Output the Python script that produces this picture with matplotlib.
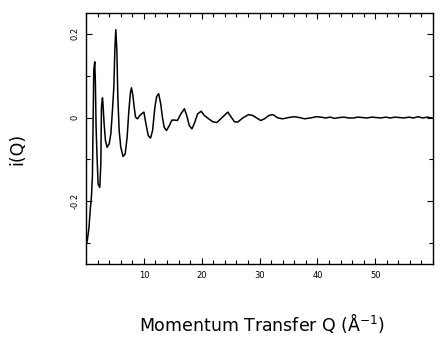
import matplotlib.pyplot as plt
from matplotlib.ticker import MultipleLocator, FixedLocator

# values
q = [0.0, 0.2, 0.5, 0.75, 0.92, 1.1, 1.21, 1.33, 1.5, 1.6, 1.73, 1.9, 2.08, 2.37,
     2.55, 2.66, 2.83, 2.9, 3.12, 3.35, 3.64, 3.99, 4.28, 4.56, 4.8, 4.97, 5.14,
     5.32, 5.49, 5.72, 6.0, 6.4, 6.76, 7.1, 7.4, 7.68, 7.85, 8.09, 8.32, 8.55,
     8.9, 9.3, 9.7, 10.0, 10.35, 10.75, 11.15, 11.5, 11.9, 12.2, 12.55, 12.9,
     13.2, 13.5, 13.9, 14.4, 14.85, 15.25, 15.8, 16.4, 17.0, 17.4, 17.85, 18.3,
     18.7, 19.3, 19.9, 20.45, 21.2, 21.9, 22.6, 23.6, 24.5, 25.1, 25.65, 26.2,
     27.1, 28.1, 28.8, 29.5, 30.2, 30.85, 31.6, 32.3, 33.2, 34.0, 35.0, 36.0,
     36.9, 37.8, 38.8, 39.8, 40.6, 41.4, 42.2, 43.0, 43.8, 44.6, 45.4, 46.2,
     47.0, 47.8, 48.6, 49.4, 50.2, 51.0, 51.8, 52.6, 53.4, 54.2, 55.0, 55.8,
     56.6, 57.4, 58.2, 59.0, 59.8]
iq = [-0.303, -0.295, -0.263, -0.215, -0.19, -0.139, -0.015, 0.113, 0.133, 0.089,
      -0.023, -0.095, -0.159, -0.167, -0.111, 0.025, 0.047, 0.037, -0.015, -0.055,
      -0.071, -0.063, -0.039, 0.017, 0.073, 0.161, 0.21, 0.161, 0.049, -0.031,
      -0.071, -0.093, -0.087, -0.047, 0.017, 0.061, 0.071, 0.053, 0.025, 0.001,
      -0.003, 0.005, 0.010, 0.013, -0.015, -0.043, -0.049, -0.031, 0.025, 0.050,
      0.057, 0.033, 0.001, -0.023, -0.031, -0.019, -0.006, -0.006, -0.007, 0.009,
      0.021, 0.005, -0.019, -0.027, -0.015, 0.009, 0.015, 0.005, -0.003, -0.010,
      -0.012, 0.001, 0.013, 0.001, -0.010, -0.011, -0.001, 0.007, 0.005, -0.001,
      -0.007, -0.003, 0.005, 0.007, -0.001, -0.003, 0.000, 0.002, 0.000, -0.003,
      -0.001, 0.002, 0.001, -0.001, 0.001, -0.002, 0.000, 0.001, -0.001, -0.001,
      0.001, 0.000, -0.001, 0.001, 0.000, -0.001, 0.001, -0.001, 0.001, 0.000,
      -0.001, 0.001, -0.001, 0.002, -0.001, 0.001, -0.001]

fig = plt.figure(figsize=(4.46, 3.39), dpi=100)
ax = fig.add_axes([0.193, 0.221, 0.778, 0.741])

ax.plot(q, iq, color="black", linewidth=1.1)

ax.set_xlim(0, 60)
ax.set_ylim(-0.35, 0.25)
ax.xaxis.set_major_locator(FixedLocator([10, 20, 30, 40, 50]))
ax.xaxis.set_minor_locator(MultipleLocator(2))
ax.yaxis.set_major_locator(FixedLocator([-0.2, 0, 0.2]))
ax.yaxis.set_minor_locator(MultipleLocator(0.1))
ax.set_yticklabels(["-0.2", "0", "0.2"], rotation=90, va="center")
ax.tick_params(which="both", direction="in", top=True, right=True, labelsize=6, width=0.8)
ax.tick_params(which="major", length=4, pad=5)
ax.tick_params(which="minor", length=3)
for s in ax.spines.values():
    s.set_linewidth(1.0)

fig.text(0.587, 0.047, r"Momentum Transfer Q ($\mathrm{\AA}^{-1}$)", ha="center", va="center", fontsize=12.5)
fig.text(0.04, 0.56, "i(Q)", rotation=90, ha="center", va="center", fontsize=12.5)

fig.savefig("out.png", dpi=100)
